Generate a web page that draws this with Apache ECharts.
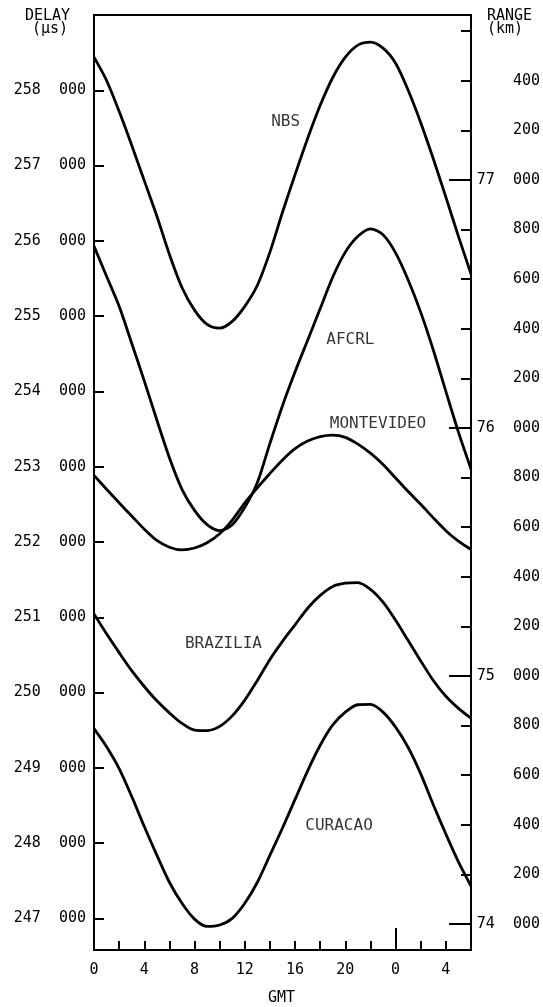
<!DOCTYPE html>
<html>
<head>
<meta charset="utf-8">
<script src="https://cdn.jsdelivr.net/npm/echarts@6/dist/echarts.min.js"></script>
<style>
html,body{margin:0;padding:0;background:#fff;}
#c{width:543px;height:1007px;}
</style>
</head>
<body>
<div id="c"></div>
<script>
// ---- Data: GMT hours (0 = 00h day 1 ... 30 = 06h day 2) and delays in microseconds ----
const hours = [0,1,2,3,4,5,6,7,8,9,10,11,12,13,14,15,16,17,18,19,20,21,22,23,24,25,26,27,28,29,30];
const nbs = [258440,258130,257720,257270,256800,256330,255820,255380,255080,254890,254840,254930,255130,255410,255850,256380,256880,257360,257800,258170,258440,258600,258640,258560,258360,258000,257570,257090,256580,256060,255560];
const afcrl = [255930,255530,255130,254640,254140,253620,253120,252700,252420,252230,252150,252230,252460,252790,253310,253810,254260,254680,255100,255520,255850,256060,256160,256080,255840,255480,255050,254550,254000,253460,252970];
const montevideo = [252885,252700,252520,252345,252170,252020,251930,251895,251920,251990,252110,252290,252520,252720,252910,253090,253240,253340,253400,253420,253390,253300,253180,253030,252850,252670,252500,252320,252150,252010,251900];
const brazilia = [251045,250780,250530,250290,250080,249890,249730,249590,249502,249495,249550,249690,249900,250160,250440,250680,250900,251120,251290,251410,251452,251460,251370,251200,250960,250690,250420,250160,249950,249790,249660];
const curacao = [249520,249280,248990,248620,248220,247840,247480,247200,246990,246893,246912,247000,247200,247480,247840,248200,248580,248960,249300,249570,249740,249838,249842,249740,249540,249270,248920,248510,248120,247750,247430];

// curve name labels: [text, hour, delay]
const curveLabels = [['NBS',15.25,257585],['AFCRL',20.4,254688],['MONTEVIDEO',22.6,253572],['BRAZILIA',10.3,250650],['CURACAO',19.5,248232]];

// ---- Tick labels ----
const gmtLabels = {0:'0',4:'4',8:'8',12:'12',16:'16',20:'20',24:'0',28:'4'};
const delayTicks = [247000,248000,249000,250000,251000,252000,253000,254000,255000,256000,257000,258000];
const delayLabels = ['247  000','248  000','249  000','250  000','251  000','252  000','253  000','254  000','255  000','256  000','257  000','258  000'];
const rangeTicks = [74000,74200,74400,74600,74800,75000,75200,75400,75600,75800,76000,76200,76400,76600,76800,77000,77200,77400,77600];
const rangeLabels = ['74  000','200','400','600','800','75  000','200','400','600','800','76  000','200','400','600','800','77  000','200','400',''];
const rangeMajorTicks = [74000,75000,76000,77000];
const longGmtTicks = [24];

const FONT = 'DejaVu Sans Mono';
const delayMin = 246580, delayMax = 259000;
const rangeMin = 73895, rangeMax = 77665;

const chart = echarts.init(document.getElementById('c'), null, {renderer:'canvas'});

function lineSeries(name, values){
  return {type:'line', name, data: hours.map((h, i) => [h, values[i]]), xAxisIndex:0, yAxisIndex:0,
    smooth:0.3, symbol:'none', lineStyle:{color:'#000', width:2.8}, silent:true};
}
const noLine = {show:false, onZero:false};

chart.setOption({
  animation:false,
  backgroundColor:'#fff',
  grid:{left:94, right:70, top:15, bottom:57, show:true, borderColor:'#000', borderWidth:2, containLabel:false},
  graphic:[
    {type:'text', left:25, top:9, style:{text:'DELAY', font:'15px "DejaVu Sans Mono"', fill:'#000'}},
    {type:'text', left:32, top:22, style:{text:'(μs)', font:'15px "DejaVu Sans Mono"', fill:'#000'}},
    {type:'text', left:487, top:9, style:{text:'RANGE', font:'15px "DejaVu Sans Mono"', fill:'#000'}},
    {type:'text', left:487, top:22, style:{text:'(km)', font:'15px "DejaVu Sans Mono"', fill:'#000'}},
    {type:'text', left:268, top:991, style:{text:'GMT', font:'15px "DejaVu Sans Mono"', fill:'#000'}}
  ],
  xAxis:[
    {type:'value', position:'bottom', min:0, max:30, interval:2, gridIndex:0,
      axisLine:noLine, splitLine:{show:false},
      axisTick:{show:true, inside:true, length:9, lineStyle:{color:'#000', width:2}},
      axisLabel:{show:true, margin:13, fontFamily:FONT, fontSize:15, color:'#000',
        formatter:v => (gmtLabels[v] !== undefined ? gmtLabels[v] : '')}},
    {type:'value', position:'bottom', min:0, max:30, gridIndex:0,
      axisLine:noLine, splitLine:{show:false}, axisLabel:{show:false},
      axisTick:{show:true, inside:true, length:22, customValues:longGmtTicks, lineStyle:{color:'#000', width:2}}}
  ],
  yAxis:[
    {type:'value', position:'left', min:delayMin, max:delayMax,
      axisLine:noLine, splitLine:{show:false},
      axisTick:{show:true, inside:true, length:10, customValues:delayTicks, lineStyle:{color:'#000', width:2}},
      axisLabel:{show:true, margin:8, fontFamily:FONT, fontSize:15, color:'#000', customValues:delayTicks,
        formatter:v => delayLabels[delayTicks.indexOf(v)] || ''}},
    {type:'value', position:'right', min:rangeMin, max:rangeMax,
      axisLine:noLine, splitLine:{show:false},
      axisTick:{show:true, inside:true, length:10, customValues:rangeTicks, lineStyle:{color:'#000', width:2}},
      axisLabel:{show:true, margin:69, align:'right', fontFamily:FONT, fontSize:15, color:'#000', customValues:rangeTicks,
        formatter:v => { const i = rangeTicks.indexOf(v); return i >= 0 ? rangeLabels[i] : ''; }}},
    {type:'value', position:'right', min:rangeMin, max:rangeMax,
      axisLine:noLine, splitLine:{show:false}, axisLabel:{show:false},
      axisTick:{show:true, inside:true, length:22, customValues:rangeMajorTicks, lineStyle:{color:'#000', width:2}}}
  ],
  series:[
    lineSeries('NBS', nbs),
    lineSeries('AFCRL', afcrl),
    lineSeries('MONTEVIDEO', montevideo),
    lineSeries('BRAZILIA', brazilia),
    lineSeries('CURACAO', curacao),
    {type:'scatter', xAxisIndex:0, yAxisIndex:0, silent:true, symbolSize:0,
      data:curveLabels.map(d => ({name:d[0], value:[d[1], d[2]]})),
      label:{show:true, position:'inside', formatter:'{b}', fontFamily:FONT, fontSize:16, color:'#000'}}
  ]
});
</script>
</body>
</html>
